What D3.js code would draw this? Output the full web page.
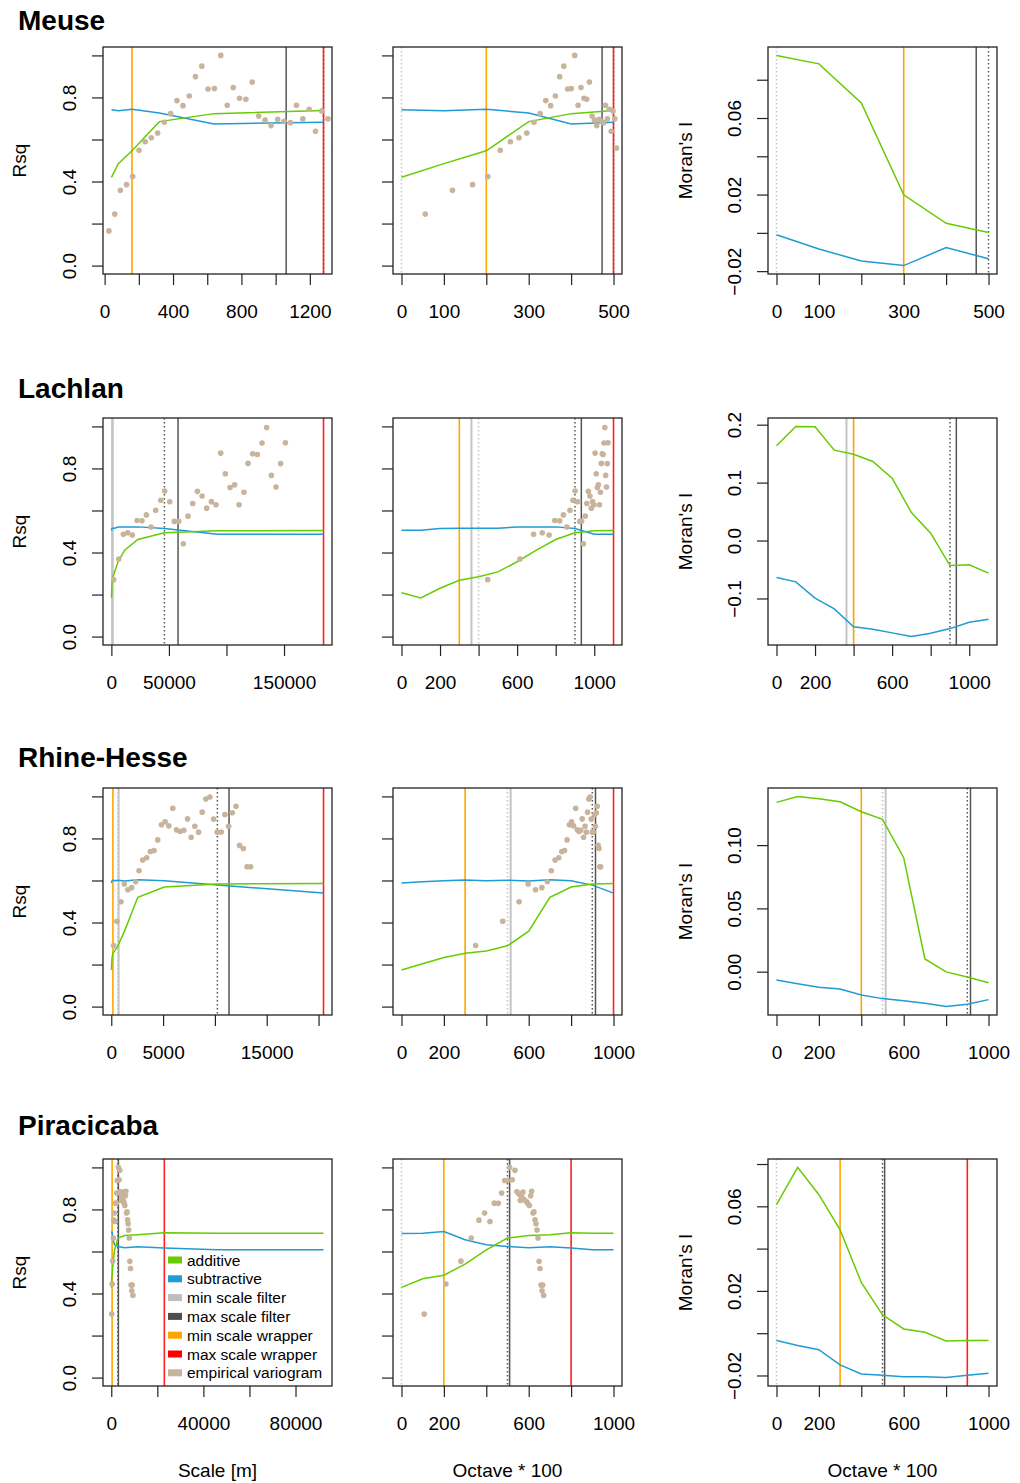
<!DOCTYPE html>
<html>
<head>
<meta charset="utf-8">
<title>Scale selection</title>
<script src="https://d3js.org/d3.v7.min.js"></script>
<style>
  body { margin: 0; background: white; }
  text { font-family: "Liberation Sans", Arial, Helvetica, sans-serif; fill: black; }
  .axis path.domain { display: none; }
  .axis line { stroke: #222; stroke-width: 1.2; }
  .axis text { font-size: 19px; }
  rect.frame { fill: none; stroke: #222; stroke-width: 1.3; }
</style>
</head>
<body>
<script>

var width = 1020,
    height = 1483;

// ---- data ----
var sites = ["Meuse", "Lachlan", "Rhine-Hesse", "Piracicaba"];
var octaveZero = [40, 90, 20, 90];   // scale [m] at octave 0

var octaves = [
  [0, 100, 200, 300, 400, 500],
  [0, 100, 200, 300, 400, 500, 600, 700, 800, 900, 1000, 1100],
  [0, 100, 200, 300, 400, 500, 600, 700, 800, 900, 1000],
  [0, 100, 200, 300, 400, 500, 600, 700, 800, 900, 1000]
];

var rsqAdditive = [
  [0.420, 0.485, 0.546, 0.685, 0.723, 0.738],
  [0.209, 0.184, 0.230, 0.268, 0.285, 0.308, 0.356, 0.411, 0.462, 0.494, 0.503, 0.505],
  [0.174, 0.204, 0.234, 0.254, 0.265, 0.289, 0.359, 0.520, 0.569, 0.583, 0.586],
  [0.429, 0.470, 0.487, 0.540, 0.608, 0.664, 0.676, 0.680, 0.689, 0.687, 0.687]
];
var rsqSubtractive = [
  [0.742, 0.737, 0.744, 0.726, 0.674, 0.682],
  [0.506, 0.506, 0.514, 0.516, 0.516, 0.516, 0.521, 0.522, 0.522, 0.514, 0.487, 0.487],
  [0.588, 0.594, 0.599, 0.602, 0.599, 0.601, 0.597, 0.604, 0.599, 0.578, 0.540],
  [0.686, 0.687, 0.695, 0.656, 0.632, 0.624, 0.618, 0.622, 0.616, 0.608, 0.608]
];
var moranAdditive = [
  [0.0927, 0.0883, 0.0679, 0.0199, 0.0050, 0.0002],
  [0.1636, 0.1970, 0.1964, 0.1560, 0.1490, 0.1365, 0.1077, 0.0484, 0.0128, -0.0432, -0.0420, -0.0563],
  [0.1338, 0.1385, 0.1367, 0.1343, 0.1264, 0.1204, 0.0901, 0.0100, -0.0002, -0.0042, -0.0087],
  [0.0608, 0.0784, 0.0655, 0.0489, 0.0240, 0.0087, 0.0020, 0.0004, -0.0037, -0.0035, -0.0034]
];
var moranSubtractive = [
  [-0.0010, -0.0084, -0.0147, -0.0171, -0.0077, -0.0135],
  [-0.0639, -0.0713, -0.0995, -0.1180, -0.1490, -0.1530, -0.1594, -0.1658, -0.1600, -0.1520, -0.1410, -0.1360],
  [-0.0066, -0.0095, -0.0123, -0.0137, -0.0184, -0.0213, -0.0229, -0.0250, -0.0276, -0.0258, -0.0221],
  [-0.0035, -0.0058, -0.0078, -0.0150, -0.0193, -0.0199, -0.0206, -0.0206, -0.0210, -0.0199, -0.0190]
];

// empirical variogram: lag distance [m] and scaled semivariance
var variogramLag = [
  [25, 59, 92, 128, 164, 201, 237, 273, 310, 349, 386, 423, 458, 495, 531, 568, 605, 642, 679,
   717, 752, 789, 826, 863, 901, 938, 973, 1012, 1049, 1087, 1122, 1159, 1196, 1233, 1269, 1306, 1343],
  [2000, 6400, 10400, 14200, 18200, 22300, 26600, 30400, 34500, 38500, 42900, 46300, 50700,
   54700, 58500, 62500, 66600, 70700, 74700, 78800, 82800, 86900, 90900, 95000, 99000, 103100,
   107100, 110900, 115200, 118700, 122800, 126800, 130900, 134900, 139000, 143000, 147100, 151200],
  [226, 548, 935, 1258, 1600, 1968, 2355, 2677, 3032, 3419, 3774, 4129, 4484, 4839, 5193, 5548,
   5935, 6290, 6645, 7000, 7355, 7709, 8064, 8419, 8774, 9129, 9516, 9871, 10225, 10612, 10967,
   11322, 11677, 12032, 12387, 12741, 13096, 13451],
  [189, 384, 628, 880, 1131, 1362, 1622, 1869, 2130, 2377, 2623, 2862, 3090, 3366, 3678, 3925,
   4194, 4380, 4576, 4779, 4993, 5330, 5567, 5881, 6143, 6346, 6632, 6849, 7082, 7317, 7560,
   7810, 8073, 8340, 8617, 8902, 9100, 9403]
];
var variogramValue = [
  [0.165, 0.245, 0.358, 0.385, 0.424, 0.549, 0.589, 0.608, 0.631, 0.682, 0.723, 0.785, 0.761,
   0.807, 0.899, 0.949, 0.840, 0.842, 1.000, 0.763, 0.847, 0.796, 0.791, 0.873, 0.712, 0.692,
   0.666, 0.696, 0.687, 0.680, 0.763, 0.698, 0.744, 0.639, 0.736, 0.698, 0.559],
  [0.271, 0.369, 0.487, 0.494, 0.483, 0.552, 0.551, 0.579, 0.521, 0.601, 0.649, 0.693, 0.641,
   0.548, 0.549, 0.442, 0.573, 0.633, 0.691, 0.669, 0.611, 0.642, 0.627, 0.873, 0.775, 0.709,
   0.722, 0.627, 0.687, 0.824, 0.870, 0.866, 0.921, 0.995, 0.767, 0.712, 0.823, 0.922],
  [0.291, 0.406, 0.499, 0.583, 0.556, 0.566, 0.594, 0.646, 0.697, 0.708, 0.738, 0.743, 0.793,
   0.865, 0.879, 0.860, 0.944, 0.841, 0.833, 0.839, 0.893, 0.806, 0.858, 0.830, 0.925, 0.988,
   0.997, 0.892, 0.830, 0.831, 0.914, 0.858, 0.922, 0.953, 0.767, 0.752, 0.665, 0.665],
  [0.302, 0.445, 0.554, 0.664, 0.749, 0.783, 0.743, 0.830, 0.829, 0.878, 0.938, 0.938, 1.000,
   0.941, 0.986, 0.884, 0.873, 0.843, 0.862, 0.883, 0.846, 0.838, 0.830, 0.819, 0.865, 0.886,
   0.783, 0.789, 0.751, 0.732, 0.702, 0.664, 0.553, 0.519, 0.440, 0.413, 0.440, 0.391]
];

// selected scales, in octave * 100
var scaleMarkers = [
  [["minDot", 0], ["wrapMin", 200], ["maxFilter", 473], ["maxDot", 500], ["wrapMax", 500]],
  [["wrapMin", 300], ["minFilter", 363], ["minDot", 400], ["maxDot", 900], ["maxFilter", 933], ["wrapMax", 1100]],
  [["wrapMin", 300], ["minDot", 500], ["minFilter", 515], ["maxDot", 900], ["maxFilter", 915], ["wrapMax", 1000]],
  [["minDot", 0], ["wrapMin", 200], ["maxDot", 500], ["maxFilter", 510], ["wrapMax", 800]]
];
var moranMarkers = [
  [["minDot", 0], ["wrapMin", 300], ["maxFilter", 471], ["maxDot", 500]],
  [["minFilter", 363], ["minDot", 400], ["wrapMin", 400], ["maxDot", 900], ["maxFilter", 933]],
  [["wrapMin", 400], ["minDot", 500], ["minFilter", 515], ["maxDot", 900], ["maxFilter", 915]],
  [["minDot", 0], ["wrapMin", 300], ["maxDot", 500], ["maxFilter", 510], ["wrapMax", 900]]
];

// ticks
var xTicksScale = [
  [0, 200, 400, 600, 800, 1000, 1200],
  [0, 50000, 100000, 150000],
  [0, 5000, 10000, 15000, 20000],
  [0, 20000, 40000, 60000, 80000]
];
var xLabelsScale = [[0, 400, 800, 1200], [0, 50000, 150000], [0, 5000, 15000], [0, 40000, 80000]];
var xTicksOctave = [
  [0, 100, 200, 300, 400, 500],
  [0, 200, 400, 600, 800, 1000],
  [0, 200, 400, 600, 800, 1000],
  [0, 200, 400, 600, 800, 1000]
];
var xLabelsOctave = [[0, 100, 300, 500], [0, 200, 600, 1000], [0, 200, 600, 1000], [0, 200, 600, 1000]];
var rsqTicks = [0, 0.2, 0.4, 0.6, 0.8, 1];
var rsqLabels = [0, 0.4, 0.8];
var moranTicks = [
  [-0.02, 0, 0.02, 0.04, 0.06, 0.08],
  [-0.1, 0, 0.1, 0.2],
  [0, 0.05, 0.1],
  [-0.02, 0, 0.02, 0.04, 0.06, 0.08]
];
var moranLabels = [[-0.02, 0.02, 0.06], [-0.1, 0, 0.1, 0.2], [0, 0.05, 0.1], [-0.02, 0.02, 0.06]];
var moranFormat = [".2f", ".1f", ".2f", ".2f"];

var legendItems = ["additive", "subtractive", "min scale filter", "max scale filter",
                   "min scale wrapper", "max scale wrapper", "empirical variogram"];

// ---- styles / layout ----
var colAdd = "#66cc00", colSub = "#1f9bd5", colVario = "#c8b39b";
var markerStyle = {
  minFilter: {color: "#c4c4c4", dash: null, w: 2},
  minDot:    {color: "#c4c4c4", dash: "1.5,2.5", w: 1.5},
  maxFilter: {color: "#555555", dash: null, w: 1.5},
  maxDot:    {color: "#555555", dash: "1.5,2.5", w: 1.5},
  wrapMin:   {color: "#ffa500", dash: null, w: 1.6},
  wrapMax:   {color: "#ff1f1f", dash: null, w: 1.6}
};
var legendColors = [colAdd, colSub, "#bebebe", "#4d4d4d", "#ffa500", "#ff0000", colVario];

var colLeft = [103, 393, 768],
    panelW = 229,
    panelH = 227,
    tickLen = 11;
var rowTop = [47, 418, 788, 1159];
var titleBase = [30, 398, 767, 1135];

function pad(e) {
  var d = (e[1] - e[0]) * 0.04;
  return [e[0] - d, e[1] + d];
}
function has(arr, v) {
  return arr.some(function(a) { return Math.abs(a - v) < 1e-9; });
}

var svg = d3.select("body").append("svg")
    .attr("width", width)
    .attr("height", height);

function drawPanel(r, c) {
  var left = colLeft[c], top = rowTop[r];
  var s0 = octaveZero[r], oct = octaves[r], maxOct = oct[oct.length - 1];
  var toScale = function(o) { return s0 * Math.pow(2, o / 100); };
  var toOctave = function(m) { return 100 * Math.log2(m / s0); };
  var xOf = c === 0 ? toScale : function(o) { return o; };
  var moran = c === 2;

  var x = d3.scaleLinear().domain(pad([xOf(0), xOf(maxOct)])).range([0, panelW]);
  var add = moran ? moranAdditive[r] : rsqAdditive[r];
  var sub = moran ? moranSubtractive[r] : rsqSubtractive[r];
  var y = d3.scaleLinear()
      .domain(moran ? pad(d3.extent(add.concat(sub))) : pad([0, 1]))
      .range([panelH, 0]);

  var g = svg.append("g").attr("transform", "translate(" + left + "," + top + ")");
  var id = "clip" + r + c;
  g.append("clipPath").attr("id", id)
    .append("rect").attr("width", panelW).attr("height", panelH);
  var plot = g.append("g").attr("clip-path", "url(#" + id + ")");

  // the dotted min filter line at octave 0 is not drawn on the metre axis
  var marks = (moran ? moranMarkers[r] : scaleMarkers[r]).filter(function(d) {
    return !(c === 0 && d[0] === "minDot" && d[1] === 0);
  });
  plot.selectAll("line.marker")
    .data(marks).enter().append("line")
    .attr("class", "marker")
    .attr("x1", function(d) { return x(xOf(d[1])); })
    .attr("x2", function(d) { return x(xOf(d[1])); })
    .attr("y1", 0)
    .attr("y2", panelH)
    .attr("stroke", function(d) { return markerStyle[d[0]].color; })
    .attr("stroke-width", function(d) { return markerStyle[d[0]].w; })
    .attr("stroke-dasharray", function(d) { return markerStyle[d[0]].dash; });

  var line = d3.line()
      .x(function(d, i) { return x(xOf(oct[i])); })
      .y(function(d) { return y(d); });

  plot.append("path").datum(sub)
    .attr("d", line).attr("fill", "none")
    .attr("stroke", colSub).attr("stroke-width", 1.5);
  plot.append("path").datum(add)
    .attr("d", line).attr("fill", "none")
    .attr("stroke", colAdd).attr("stroke-width", 1.5);

  if (!moran) {
    var lags = variogramLag[r];
    plot.selectAll("circle")
      .data(variogramValue[r]).enter().append("circle")
      .attr("cx", function(d, i) { return x(c === 0 ? lags[i] : toOctave(lags[i])); })
      .attr("cy", function(d) { return y(d); })
      .attr("r", 2.8)
      .attr("fill", colVario);
  }

  // x axis
  var xt = c === 0 ? xTicksScale[r] : xTicksOctave[r];
  var xl = c === 0 ? xLabelsScale[r] : xLabelsOctave[r];
  var xa = g.append("g").attr("class", "axis")
    .attr("transform", "translate(0," + panelH + ")")
    .call(d3.axisBottom(x).tickValues(xt).tickSize(tickLen)
      .tickFormat(function(d) { return has(xl, d) ? d3.format("d")(d) : ""; }));
  xa.selectAll("text").attr("y", 44).attr("dy", null);

  // y axis
  var yt = moran ? moranTicks[r] : rsqTicks;
  var yl = c === 1 ? [] : (moran ? moranLabels[r] : rsqLabels);
  var fmt = d3.format(moran ? moranFormat[r] : ".1f");
  var ya = g.append("g").attr("class", "axis")
    .call(d3.axisLeft(y).tickValues(yt).tickSize(tickLen)
      .tickFormat(function(d) { return has(yl, d) ? fmt(d) : ""; }));
  ya.selectAll("text")
    .attr("x", 0).attr("y", 0).attr("dy", null)
    .attr("text-anchor", "middle")
    .attr("transform", "translate(-27,0) rotate(-90)");

  g.append("rect").attr("class", "frame")
    .attr("width", panelW).attr("height", panelH);

  // axis titles
  if (c !== 1) {
    svg.append("text")
      .attr("text-anchor", "middle")
      .style("font-size", "19px")
      .attr("transform", "translate(" + (c === 0 ? 26 : 692) + "," + (top + panelH / 2) + ") rotate(-90)")
      .text(moran ? "Moran's I" : "Rsq");
  }
  if (r === 3) {
    svg.append("text")
      .attr("x", left + panelW / 2)
      .attr("y", 1477)
      .attr("text-anchor", "middle")
      .style("font-size", "19px")
      .text(c === 0 ? "Scale [m]" : "Octave * 100");
  }
}

sites.forEach(function(name, r) {
  svg.append("text")
    .attr("x", 18)
    .attr("y", titleBase[r])
    .style("font-size", "28px")
    .style("font-weight", "bold")
    .text(name);
  [0, 1, 2].forEach(function(c) { drawPanel(r, c); });
});

// legend in the Piracicaba scale panel
var legend = svg.append("g").attr("transform", "translate(168,1260)");
var items = legend.selectAll("g")
    .data(legendItems).enter().append("g")
    .attr("transform", function(d, i) { return "translate(0," + (i * 18.8) + ")"; });
items.append("rect")
    .attr("x", 0).attr("y", -3.5)
    .attr("width", 14).attr("height", 7)
    .attr("fill", function(d, i) { return legendColors[i]; });
items.append("text")
    .attr("x", 19).attr("y", 5.5)
    .style("font-size", "15.5px")
    .text(function(d) { return d; });

</script>
</body>
</html>
